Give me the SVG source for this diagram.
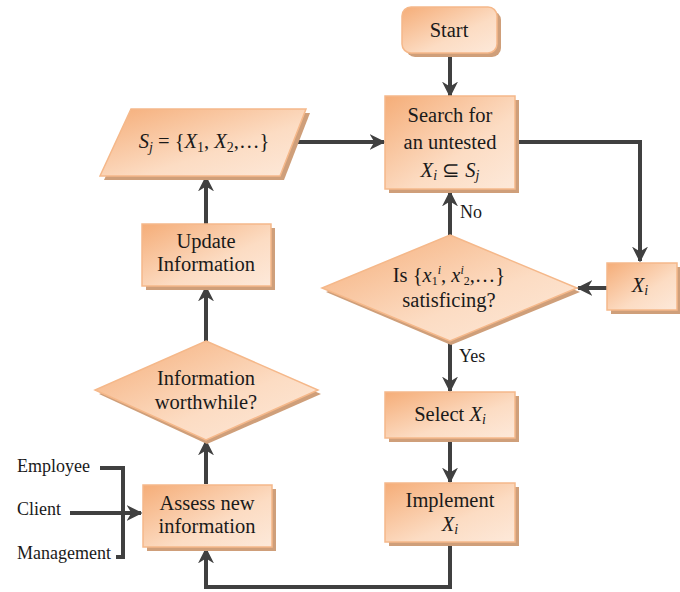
<svg xmlns="http://www.w3.org/2000/svg" width="680" height="592" viewBox="0 0 680 592">
<defs>
<linearGradient id="g" x1="0" y1="0" x2="1" y2="1">
<stop offset="0" stop-color="#f5ad78"/>
<stop offset="0.6" stop-color="#fcdcc3"/>
<stop offset="1" stop-color="#fde9da"/>
</linearGradient>
<marker id="ah" viewBox="0 0 10 10" refX="9" refY="5" markerWidth="4" markerHeight="4" markerUnits="strokeWidth" orient="auto">
<path d="M0,0 L10,5 L0,10 L3,5 z" fill="#404040"/>
</marker>
</defs>
<style>
.n{fill:url(#g);stroke:#f5b88a;stroke-width:1.5}
.s{fill:#cf9f7a}
.t{font-family:"Liberation Serif","Times New Roman",serif;font-size:20.5px;fill:#1a1a1a;text-anchor:middle}
.l{font-family:"Liberation Serif","Times New Roman",serif;font-size:18px;fill:#1a1a1a}
.c{fill:none;stroke:#404040;stroke-width:4}
.a{marker-end:url(#ah)}
</style>
<g id="connectors">
<line class="c a" x1="450" y1="55" x2="450" y2="96"/>
<line class="c a" x1="296" y1="142" x2="384" y2="142"/>
<polyline class="c a" points="515,142 640,142 640,261"/>
<line class="c a" x1="607" y1="288" x2="578" y2="288"/>
<line class="c a" x1="450" y1="236" x2="450" y2="192"/>
<line class="c a" x1="450" y1="341" x2="450" y2="391"/>
<line class="c a" x1="450" y1="440" x2="450" y2="482"/>
<polyline class="c a" points="450,544 450,587 206,587 206,549"/>
<line class="c a" x1="206" y1="484" x2="206" y2="441"/>
<line class="c a" x1="206" y1="341" x2="206" y2="287"/>
<line class="c a" x1="206" y1="224" x2="206" y2="177"/>
<line class="c a" x1="70" y1="513" x2="141" y2="513"/>
<polyline class="c" points="100,468 123,468 123,557 116,557"/>
<text class="l" x="460" y="218">No</text>
<text class="l" x="459" y="362">Yes</text>
<text class="l" x="17" y="472">Employee</text>
<text class="l" x="17" y="515">Client</text>
<text class="l" x="17" y="559">Management</text>
</g>
<g id="start">
<rect class="s" x="406" y="11" width="95" height="46" rx="9"/>
<rect class="n" x="402" y="7" width="95" height="46" rx="9"/>
<text class="t" x="449" y="37">Start</text>
</g>
<g id="search">
<rect class="s" x="389" y="100" width="130" height="93"/>
<rect class="n" x="385" y="96" width="130" height="93"/>
<text class="t" x="450" y="122">Search for</text>
<text class="t" x="450" y="149">an untested</text>
<text class="t" x="450" y="177"><tspan font-style="italic">X</tspan><tspan font-style="italic" font-size="14" dy="3">i</tspan><tspan dy="-3"> ⊆ </tspan><tspan font-style="italic">S</tspan><tspan font-style="italic" font-size="14" dy="3">j</tspan></text>
</g>
<g id="set">
<polygon class="s" points="135,113 310,113 284,180 104,180"/>
<polygon class="n" points="131,109 306,109 280,176 100,176"/>
<text class="t" x="204" y="148"><tspan font-style="italic">S</tspan><tspan font-style="italic" font-size="14" dy="4">j</tspan><tspan dy="-4"> = {</tspan><tspan font-style="italic">X</tspan><tspan font-size="14" dy="4">1</tspan><tspan dy="-4">, </tspan><tspan font-style="italic">X</tspan><tspan font-size="14" dy="4">2</tspan><tspan dy="-4">,…}</tspan></text>
</g>
<g id="update">
<rect class="s" x="146" y="228" width="129" height="62"/>
<rect class="n" x="142" y="224" width="129" height="62"/>
<text class="t" x="206" y="248">Update</text>
<text class="t" x="206" y="271">Information</text>
</g>
<g id="worthwhile">
<polygon class="s" points="207,345 321,394 207,444 99,394"/>
<polygon class="n" points="206,341 318,390 206,440 95,390"/>
<text class="t" x="206" y="385">Information</text>
<text class="t" x="206" y="409">worthwhile?</text>
</g>
<g id="assess">
<rect class="s" x="147" y="489" width="129" height="62"/>
<rect class="n" x="143" y="485" width="129" height="62"/>
<text class="t" x="207" y="510">Assess new</text>
<text class="t" x="207" y="533">information</text>
</g>
<g id="xi">
<rect class="s" x="611" y="267" width="70" height="47"/>
<rect class="n" x="607" y="263" width="70" height="47"/>
<text class="t" x="640" y="292"><tspan font-style="italic">X</tspan><tspan font-style="italic" font-size="14" dy="3">i</tspan></text>
</g>
<g id="satisficing">
<polygon class="s" points="451,239 580,292 451,345 326,292"/>
<polygon class="n" points="450,235 577,288 450,341 322,288"/>
<text class="t" x="449" y="282">Is {<tspan font-style="italic">x</tspan><tspan font-size="12" dy="3">1</tspan><tspan font-style="italic" font-size="12" dy="-11">i</tspan><tspan dy="8">, </tspan><tspan font-style="italic">x</tspan><tspan font-style="italic" font-size="12" dy="-8">i</tspan><tspan font-size="12" dy="11">2</tspan><tspan dy="-3">,…}</tspan></text>
<text class="t" x="449" y="307">satisficing?</text>
</g>
<g id="select">
<rect class="s" x="389" y="396" width="130" height="46"/>
<rect class="n" x="385" y="392" width="130" height="46"/>
<text class="t" x="450" y="421">Select <tspan font-style="italic">X</tspan><tspan font-style="italic" font-size="14" dy="3">i</tspan></text>
</g>
<g id="implement">
<rect class="s" x="389" y="487" width="130" height="59"/>
<rect class="n" x="385" y="483" width="130" height="59"/>
<text class="t" x="450" y="507">Implement</text>
<text class="t" x="450" y="531"><tspan font-style="italic">X</tspan><tspan font-style="italic" font-size="14" dy="3">i</tspan></text>
</g>
</svg>
